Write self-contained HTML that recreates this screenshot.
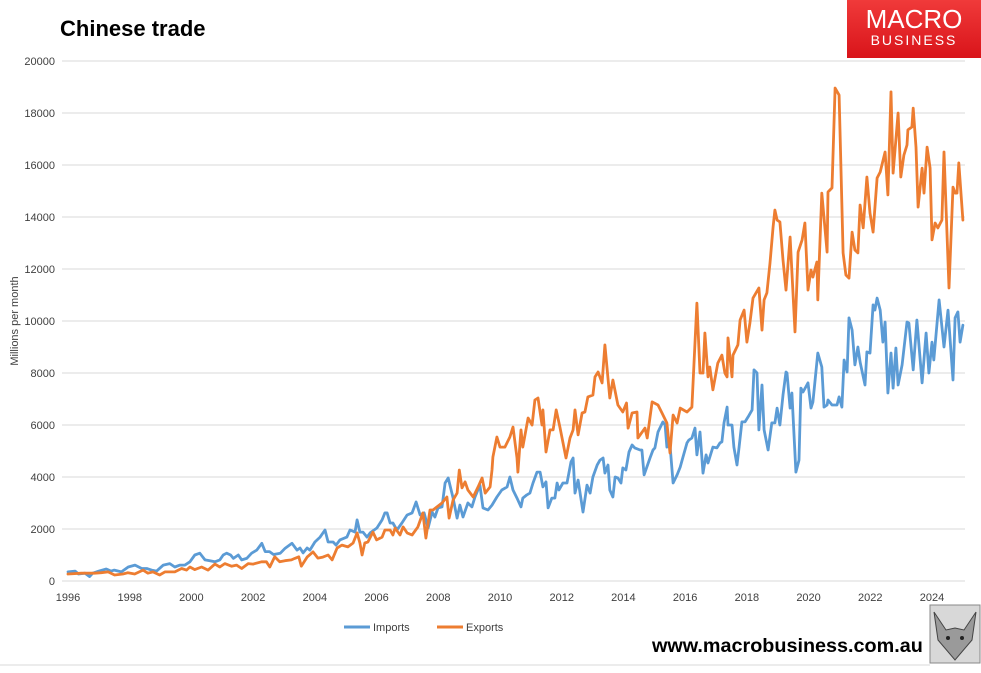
<!DOCTYPE html>
<html><head><meta charset="utf-8"><style>
html,body{margin:0;padding:0;background:#fff;}
body{width:981px;height:668px;position:relative;overflow:hidden;font-family:"Liberation Sans",sans-serif;}
</style></head><body>
<svg id="chart" width="981" height="668" viewBox="0 0 981 668" xmlns="http://www.w3.org/2000/svg">
  <rect x="0" y="0" width="981" height="668" fill="#fff"/>
  <text x="60" y="36" font-family="Liberation Sans, sans-serif" font-weight="bold" font-size="22" fill="#000">Chinese trade</text>
  <g>
    <defs><linearGradient id="lg" x1="0" y1="0" x2="0" y2="1"><stop offset="0" stop-color="#f03a3a"/><stop offset="1" stop-color="#d9141a"/></linearGradient></defs>
    <rect x="847" y="0" width="134" height="58" fill="url(#lg)"/>
    <text x="914" y="28" text-anchor="middle" font-family="Liberation Sans, sans-serif" font-size="26" fill="#fff">MACRO</text>
    <text x="914" y="45" text-anchor="middle" font-family="Liberation Sans, sans-serif" font-size="14" letter-spacing="2" fill="#fff">BUSINESS</text>
  </g>
  <g id="grid"></g>
  <g id="yticks"></g>
  <g id="xticks"></g>
  <text transform="translate(18,321) rotate(-90)" text-anchor="middle" font-family="Liberation Sans, sans-serif" font-size="11" fill="#404040">Millions per month</text>
  <g id="series"></g>
  <g>
    <g>
      <line x1="344" y1="627" x2="370" y2="627" stroke="#5B9BD5" stroke-width="3"/>
      <text x="373" y="631" font-family="Liberation Sans, sans-serif" font-size="11" fill="#404040">Imports</text>
    </g>
    <g>
      <line x1="437" y1="627" x2="463" y2="627" stroke="#ED7D31" stroke-width="3"/>
      <text x="466" y="631" font-family="Liberation Sans, sans-serif" font-size="11" fill="#404040">Exports</text>
    </g>
  </g>
  <text x="652" y="652" font-family="Liberation Sans, sans-serif" font-weight="bold" font-size="19.8" fill="#000">www.macrobusiness.com.au</text>
  <g>
    <rect x="930" y="605" width="50" height="58" fill="#d8d8d8" stroke="#888" stroke-width="1"/>
    <path d="M934 612 L946 630 L955 628 L964 630 L976 612 L972 640 L955 660 L938 640 Z" fill="#9a9a9a" stroke="#444" stroke-width="1"/>
    <circle cx="948" cy="638" r="2" fill="#222"/><circle cx="962" cy="638" r="2" fill="#222"/>
  </g>
  <line x1="0" y1="665" x2="930" y2="665" stroke="#d9d9d9" stroke-width="1"/>
</svg>
<script>
const yTicks=[0,2000,4000,6000,8000,10000,12000,14000,16000,18000,20000];
const xTickYears=[1996,1998,2000,2002,2004,2006,2008,2010,2012,2014,2016,2018,2020,2022,2024];
const importYears=[1996.0,1996.23,1996.34,1996.55,1996.7,1996.8,1997.0,1997.24,1997.4,1997.5,1997.73,1997.95,1998.17,1998.39,1998.55,1998.71,1998.87,1999.09,1999.3,1999.46,1999.63,1999.79,1999.95,2000.11,2000.27,2000.44,2000.6,2000.76,2000.92,2001.03,2001.14,2001.27,2001.36,2001.52,2001.63,2001.79,2001.95,2002.12,2002.28,2002.39,2002.53,2002.66,2002.88,2003.04,2003.26,2003.42,
2003.52,2003.62,2003.75,2003.84,2004.0,2004.17,2004.33,2004.43,2004.59,2004.69,2004.81,2005.04,2005.14,2005.3,2005.37,2005.46,2005.56,2005.69,2005.79,2006.01,2006.18,2006.27,2006.34,2006.44,2006.53,2006.66,2006.82,2006.99,2007.15,2007.28,2007.41,2007.54,2007.67,2007.8,2007.89,2007.99,2008.12,2008.22,2008.32,2008.48,2008.61,2008.7,2008.8,2008.96,2009.09,2009.19,2009.35,2009.45,2009.61,2009.74,2009.9,2010.06,2010.23,2010.32,2010.42,2010.55,2010.68,2010.74,2010.87,2010.97,2011.07,2011.2,2011.3,2011.39,2011.49,2011.56,2011.68,2011.78,2011.85,2011.91,2012.04,2012.17,2012.3,2012.37,2012.43,2012.53,2012.69,2012.82,2012.92,2013.01,2013.15,
2013.24,2013.34,2013.4,2013.5,2013.56,2013.66,2013.73,2013.82,2013.92,2013.98,2014.08,2014.18,2014.28,2014.37,2014.54,2014.6,2014.67,2014.86,2014.96,2015.02,2015.12,2015.28,2015.35,2015.41,2015.51,2015.61,2015.74,2015.84,2015.93,2016.06,2016.12,2016.22,2016.32,2016.38,2016.48,2016.58,2016.68,2016.74,2016.9,2017.03,2017.13,2017.19,2017.26,2017.36,2017.39,2017.52,2017.58,2017.68,2017.75,2017.84,2017.94,2018.04,2018.17,2018.23,2018.33,2018.39,2018.49,2018.56,2018.69,2018.81,2018.91,2018.98,2019.07,2019.17,2019.27,2019.3,2019.4,2019.46,2019.59,2019.69,2019.75,2019.82,2019.98,2020.08,2020.14,2020.3,2020.43,2020.5,2020.6,2020.63,2020.76,2020.92,2020.99,2021.08,2021.15,2021.25,2021.31,2021.41,2021.5,2021.6,2021.67,2021.83,2021.89,2021.99,2022.09,2022.15,2022.22,2022.32,2022.41,2022.48,2022.57,2022.67,2022.74,2022.83,2022.9,2023.03,2023.19,2023.25,2023.39,2023.51,2023.68,2023.81,2023.9,2024.0,2024.06,2024.23,2024.39,2024.52,2024.68,2024.75,2024.84,2024.91,2025.0];
const importValues=[350,380,270,300,170,300,380,460,380,420,350,540,610,480,480,420,380,610,670,540,610,610,740,1000,1070,810,780,740,810,1000,1070,1000,870,1000,810,870,1070,1190,1450,1130,1130,1020,1070,1260,1450,1190,
1270,1080,1270,1190,1500,1690,1960,1500,1500,1380,1580,1690,1960,1880,2350,1880,1880,1690,1850,2040,2350,2620,2620,2230,2230,1960,2230,2540,2620,3040,2540,2620,2040,2650,2460,2810,2850,3770,3960,3190,2420,2920,2460,3000,2850,3230,3690,2810,2730,2920,3230,3500,3620,4000,3500,3190,2850,3190,3310,3380,3770,4190,4190,3620,3810,2810,3190,3190,3770,3500,3770,3770,4580,4730,3380,3880,2650,3690,3380,4000,4460,
4650,4730,4150,4460,3500,3230,4000,3960,3770,4350,4270,4960,5230,5120,5040,5040,4080,4730,5040,5120,5730,6120,6000,5150,5230,3770,4080,4380,4770,5310,5420,5500,5880,4850,5730,4150,4850,4540,5150,5120,5310,5350,6080,6690,6000,6000,5150,4460,5150,6120,6120,6310,6580,8120,8000,5810,7540,5810,5040,6080,6080,6650,6000,7150,8040,8000,6650,7230,4190,4650,7420,7270,7620,6650,6880,8770,8230,6690,6770,6960,6770,6770,7080,6690,8500,8040,10120,9650,8310,9000,8420,7540,8810,8770,10620,10420,10880,10420,9190,9960,7230,8770,7420,8960,7540,8310,9960,9920,8120,10040,7620,9540,8000,9190,8500,10810,9000,10420,7730,10120,10350,9190,9840];
const exportYears=[1996.0,1996.43,1996.86,1997.08,1997.3,1997.51,1997.78,1997.94,1998.16,1998.43,1998.59,1998.75,1998.97,1999.14,1999.46,1999.68,1999.84,1999.95,2000.11,2000.33,2000.54,2000.76,2000.92,2001.08,2001.3,2001.46,2001.63,2001.84,2002.0,2002.27,2002.43,2002.54,2002.7,2002.86,2003.03,2003.24,2003.35,2003.48,
2003.56,2003.75,2003.94,2004.1,2004.26,2004.43,2004.56,2004.72,2004.88,2005.07,2005.24,2005.37,2005.46,2005.53,2005.62,2005.72,2005.88,2006.0,2006.18,2006.27,2006.44,2006.53,2006.6,2006.76,2006.86,2006.99,2007.15,2007.34,2007.5,2007.6,2007.73,2007.83,2007.96,2008.12,2008.28,2008.35,2008.48,2008.61,2008.68,2008.77,2008.87,2008.96,2009.13,2009.29,2009.42,2009.52,2009.68,2009.74,2009.77,2009.9,2010.0,2010.16,2010.32,2010.42,2010.55,2010.58,2010.68,2010.74,2010.91,2011.04,2011.13,2011.23,2011.36,2011.39,2011.49,2011.62,2011.72,2011.82,2011.94,2012.14,2012.27,2012.37,2012.43,2012.53,2012.66,2012.75,2012.85,2013.01,2013.08,2013.18,2013.31,
2013.4,2013.56,2013.66,2013.82,2013.98,2014.1,2014.15,2014.28,2014.44,2014.47,2014.7,2014.77,2014.93,2015.12,2015.25,2015.41,2015.51,2015.61,2015.74,2015.84,2016.06,2016.22,2016.38,2016.48,2016.58,2016.64,2016.74,2016.8,2016.9,2017.06,2017.19,2017.29,2017.36,2017.39,2017.52,2017.55,2017.71,2017.78,2017.91,2018.0,2018.1,2018.2,2018.39,2018.49,2018.56,2018.65,2018.75,2018.85,2018.91,2018.98,2019.07,2019.17,2019.27,2019.4,2019.56,2019.66,2019.79,2019.88,2019.98,2020.08,2020.14,2020.27,2020.3,2020.43,2020.6,2020.63,2020.76,2020.86,2020.99,2021.12,2021.21,2021.31,2021.41,2021.5,2021.6,2021.67,2021.77,2021.89,2021.99,2022.09,2022.22,2022.32,2022.48,2022.57,2022.67,2022.74,2022.9,2022.99,2023.09,2023.19,2023.22,2023.35,2023.39,2023.48,2023.55,2023.68,2023.74,2023.84,2023.94,2024.0,2024.1,2024.19,2024.32,2024.39,2024.55,2024.68,2024.75,2024.81,2024.87,2025.0];
const exportValues=[270,300,300,320,350,230,270,320,270,420,300,350,230,350,350,480,420,540,440,540,420,650,540,670,570,610,480,670,650,740,740,540,930,740,780,810,870,930,
570,920,1120,880,920,1000,810,1270,1380,1310,1460,1850,1460,1000,1460,1500,1880,1580,1690,1960,1960,1770,2040,1770,2080,1850,1770,2080,2620,1650,2730,2730,2850,3000,3230,2420,3120,3380,4270,3580,3810,3500,3230,3620,3960,3380,3620,4270,4770,5540,5150,5150,5540,5920,4730,4190,5810,5150,6270,6000,6960,7040,6000,6580,4960,5810,5810,6580,5920,4730,5500,5810,6580,5620,6460,6500,7080,7150,7850,8040,7620,
9080,7040,7730,6770,6500,6846,5880,6460,6500,5500,5880,5500,6890,6770,6460,6077,4923,6385,6077,6650,6500,6690,10690,8000,8000,9540,7850,8230,7350,8380,8690,8000,7850,9350,7850,8690,9080,10040,10420,9190,9920,10880,11270,9650,10810,11080,12230,13620,14270,13880,13810,12350,11190,13230,9580,12650,13120,13770,11190,11960,11690,12270,10810,14920,12650,14960,15120,18960,18690,12620,11770,11650,13420,12730,12620,14460,13580,15540,14150,13420,15500,15730,16500,14850,18810,15690,18000,15540,16380,16770,17350,17460,18190,16690,14380,15880,14920,16690,15880,13120,13770,13580,13880,16500,11270,15150,14920,14920,16080,13880];

const NS='http://www.w3.org/2000/svg';
const X0=68, PXYR=30.857, Y0=581, PXV=0.026;
function xScale(yr){return X0+(yr-1996)*PXYR;}
function yScale(v){return Y0-v*PXV;}
function mk(tag,attrs,parent){const e=document.createElementNS(NS,tag);for(const k in attrs)e.setAttribute(k,attrs[k]);parent.appendChild(e);return e;}

const grid=document.getElementById('grid'), yt=document.getElementById('yticks'), xt=document.getElementById('xticks'), ser=document.getElementById('series');
yTicks.forEach(v=>{
  const l=mk('line',{x1:62,x2:965,y1:yScale(v),y2:yScale(v),stroke:'#d9d9d9','stroke-width':1},grid);
  
  
  const t=mk('text',{x:55,y:yScale(v)+4,'text-anchor':'end','font-family':'Liberation Sans, sans-serif','font-size':11,fill:'#404040'},yt);
  t.textContent=String(v);
  
  
});
xTickYears.forEach(yr=>{
  const t=mk('text',{x:xScale(yr),y:601,'text-anchor':'middle','font-family':'Liberation Sans, sans-serif','font-size':11,fill:'#404040'},xt);
  t.textContent=String(yr);
  
  
});
function drawLine(xs,vs,color,name){
  let d='';
  for(let i=0;i<xs.length;i++){d+=(i?'L':'M')+xScale(xs[i]).toFixed(1)+' '+yScale(vs[i]).toFixed(1);}
  const p=mk('path',{d:d,fill:'none',stroke:color,'stroke-width':2.8,'stroke-linejoin':'round','stroke-linecap':'round'},ser);
  
  
}
drawLine(importYears,importValues,'#5B9BD5','imports-line');
drawLine(exportYears,exportValues,'#ED7D31','exports-line');
</script>
</body></html>
